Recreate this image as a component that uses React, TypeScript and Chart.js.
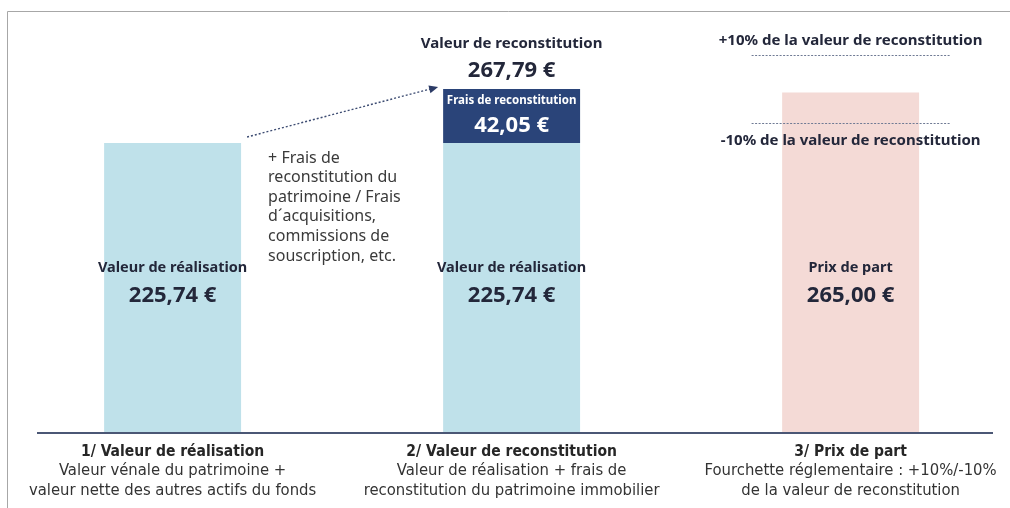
import React, { useEffect, useRef } from "react";
import { Chart, registerables } from "chart.js";

Chart.register(...registerables);

// ---- data ----
const categories = ["1/ Valeur de réalisation", "2/ Valeur de reconstitution", "3/ Prix de part"];
const categoryNotes = [
  ["Valeur vénale du patrimoine +", "valeur nette des autres actifs du fonds"],
  ["Valeur de réalisation + frais de", "reconstitution du patrimoine immobilier"],
  ["Fourchette réglementaire : +10%/-10%", "de la valeur de reconstitution"],
];
const positions = [0, 1, 2];
const realisationValues: (number | null)[] = [225.74, 225.74, null];
const fraisValues: (number | null)[] = [null, 42.05, null];
const prixValues: (number | null)[] = [null, null, 265.0];
const reconstitutionTotal = 267.79;
const rangeValues = [294.57, 241.01];
const rangeLabels = ["+10% de la valeur de reconstitution", "-10% de la valeur de reconstitution"];
const sideNote = [
  "+ Frais de",
  "reconstitution du",
  "patrimoine / Frais",
  "d´acquisitions,",
  "commissions de",
  "souscription, etc.",
];

const FONT = "'Noto Sans', 'Open Sans', sans-serif";
const COND = "'Liberation Sans Narrow', 'DejaVu Sans Condensed', Roboto, sans-serif";
const DARK = "#23273a";
const fmt = (v: number) => v.toFixed(2).replace(".", ",") + " €";

const overlay = {
  id: "overlay",
  afterDatasetsDraw(chart: any) {
    const ctx = chart.ctx;
    const ca = chart.chartArea;
    const ys = chart.scales.y;
    const m0 = chart.getDatasetMeta(0).data;
    const m1 = chart.getDatasetMeta(1).data;
    const m2 = chart.getDatasetMeta(2).data;
    const bar = (el: any) => {
      const p = el.getProps(["x", "y", "base", "width"], true);
      return { x: p.x, top: Math.min(p.y, p.base), bottom: Math.max(p.y, p.base), left: p.x - p.width / 2, right: p.x + p.width / 2 };
    };
    ctx.save();

    // frame
    ctx.strokeStyle = "#a7a7a7";
    ctx.lineWidth = 1;
    ctx.beginPath();
    ctx.moveTo(7.5, chart.height);
    ctx.lineTo(7.5, 11.5);
    ctx.lineTo(chart.width, 11.5);
    ctx.stroke();

    // axis line
    ctx.strokeStyle = "#4b5775";
    ctx.lineWidth = 2;
    ctx.beginPath();
    ctx.moveTo(ca.left, ca.bottom);
    ctx.lineTo(ca.right, ca.bottom);
    ctx.stroke();

    ctx.textAlign = "center";
    ctx.textBaseline = "middle";
    const midY = ys.getPixelForValue((realisationValues[0] as number) / 2);

    // labels in realisation bars
    [0, 1].forEach((i) => {
      const b = bar(m0[i]);
      ctx.fillStyle = DARK;
      ctx.font = `bold 14.5px ${FONT}`;
      ctx.fillText("Valeur de réalisation", b.x, midY - 20);
      ctx.font = `bold 22px ${FONT}`;
      ctx.fillText(fmt(realisationValues[i] as number), b.x, midY + 8);
    });

    // prix de part
    const b3 = bar(m2[2]);
    ctx.fillStyle = DARK;
    ctx.font = `bold 14.5px ${FONT}`;
    ctx.fillText("Prix de part", b3.x, midY - 20);
    ctx.font = `bold 22px ${FONT}`;
    ctx.fillText(fmt(prixValues[2] as number), b3.x, midY + 8);

    // frais segment
    const bf = bar(m1[1]);
    const fm = (bf.top + bf.bottom) / 2;
    ctx.fillStyle = "#ffffff";
    ctx.font = `bold 11.5px ${FONT}`;
    ctx.fillText("Frais de reconstitution", bf.x, fm - 15);
    ctx.font = `bold 22px ${FONT}`;
    ctx.fillText(fmt(fraisValues[1] as number), bf.x, fm + 10);

    // above bar 2
    const topY = ys.getPixelForValue(reconstitutionTotal);
    ctx.fillStyle = DARK;
    ctx.font = `bold 15px ${FONT}`;
    ctx.fillText("Valeur de reconstitution", bf.x, topY - 45);
    ctx.font = `bold 22px ${FONT}`;
    ctx.fillText(fmt(reconstitutionTotal), bf.x, topY - 18);

    // side note
    const b1 = bar(m0[0]);
    ctx.textAlign = "left";
    ctx.fillStyle = "#3a3a3a";
    ctx.font = `16px ${FONT}`;
    sideNote.forEach((t, k) => ctx.fillText(t, b1.right + 27, b1.top + 15 + k * 19.6));

    // arrow
    const ax0 = b1.right + 6, ay0 = b1.top - 6;
    const ax1 = bf.left - 5, ay1 = topY - 2;
    ctx.strokeStyle = "#3d4c72";
    ctx.fillStyle = "#2c3b66";
    ctx.lineWidth = 1.4;
    ctx.setLineDash([2, 2]);
    ctx.beginPath();
    ctx.moveTo(ax0, ay0);
    ctx.lineTo(ax1 - 6, ay1 + 1.5);
    ctx.stroke();
    ctx.setLineDash([]);
    const ang = Math.atan2(ay1 - ay0, ax1 - ax0);
    ctx.beginPath();
    ctx.moveTo(ax1, ay1);
    ctx.lineTo(ax1 - 9 * Math.cos(ang) + 4 * Math.sin(ang), ay1 - 9 * Math.sin(ang) - 4 * Math.cos(ang));
    ctx.lineTo(ax1 - 9 * Math.cos(ang) - 4 * Math.sin(ang), ay1 - 9 * Math.sin(ang) + 4 * Math.cos(ang));
    ctx.closePath();
    ctx.fill();

    // range lines
    ctx.strokeStyle = "#6f7a94";
    ctx.lineWidth = 1;
    ctx.setLineDash([2, 1.5]);
    rangeValues.forEach((v, k) => {
      const y = Math.round(ys.getPixelForValue(v)) + 0.5;
      ctx.beginPath();
      ctx.moveTo(b3.x - 99, y);
      ctx.lineTo(b3.x + 100, y);
      ctx.stroke();
      ctx.textAlign = "center";
      ctx.fillStyle = DARK;
      ctx.font = `bold 15px ${FONT}`;
      ctx.fillText(rangeLabels[k], b3.x, k === 0 ? y - 15 : y + 17);
    });
    ctx.setLineDash([]);

    // bottom category labels
    ctx.textAlign = "center";
    positions.forEach((p, i) => {
      const x = chart.scales.x.getPixelForValue(p);
      ctx.fillStyle = "#262626";
      ctx.font = `bold 15.5px ${COND}`;
      ctx.fillText(categories[i], x, ca.bottom + 19);
      ctx.fillStyle = "#333333";
      ctx.font = `16.5px ${COND}`;
      ctx.fillText(categoryNotes[i][0], x, ca.bottom + 38);
      ctx.fillText(categoryNotes[i][1], x, ca.bottom + 58);
    });

    ctx.restore();
  },
};

export default function App() {
  const ref = useRef<HTMLCanvasElement>(null);
  useEffect(() => {
    const mk = (vals: (number | null)[]) => positions.map((p, i) => ({ x: p, y: vals[i] }));
    const chart = new Chart(ref.current as HTMLCanvasElement, {
      type: "bar",
      data: {
        datasets: [
          { label: "Valeur de réalisation", data: mk(realisationValues) as any, backgroundColor: "#bfe1ea" },
          { label: "Frais de reconstitution", data: mk(fraisValues) as any, backgroundColor: "#2a4479" },
          { label: "Prix de part", data: mk(prixValues) as any, backgroundColor: "#f4dad6" },
        ],
      },
      options: {
        animation: false,
        responsive: false,
        devicePixelRatio: 1,
        layout: { padding: { left: 37, right: 17, top: 47.6, bottom: 75 } },
        datasets: { bar: { barPercentage: 0.404, categoryPercentage: 1 } } as any,
        plugins: { legend: { display: false }, tooltip: { enabled: false } },
        scales: {
          x: {
            type: "linear",
            display: false,
            stacked: true,
            offset: false,
            bounds: "data",
            min: -0.4,
            max: 2.42,
            ticks: { stepSize: 1, includeBounds: false },
          },
          y: { display: false, stacked: true, min: 0, max: 300 },
        },
      },
      plugins: [overlay],
    });
    return () => chart.destroy();
  }, []);
  return (
    <div style={{ position: "fixed", left: 0, top: 0, width: 1010, height: 508, background: "#fff" }}>
      <canvas ref={ref} width={1010} height={508} style={{ display: "block", width: 1010, height: 508 }} />
    </div>
  );
}
